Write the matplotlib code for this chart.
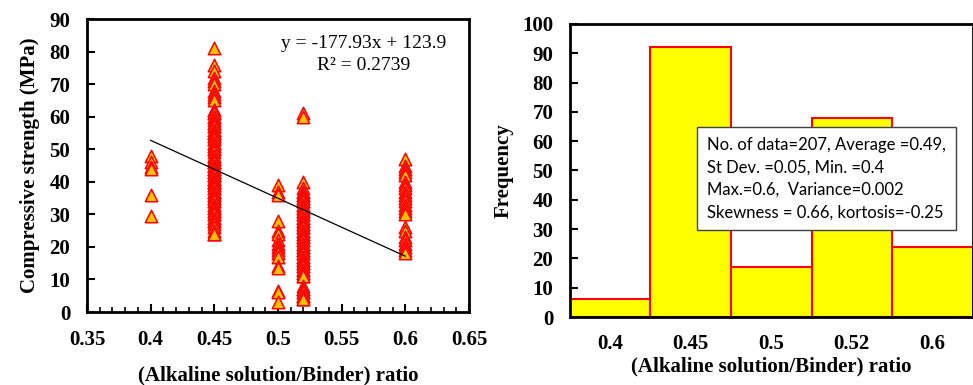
import numpy as np
import matplotlib
matplotlib.use("Agg")
import matplotlib.pyplot as plt
from matplotlib.ticker import MultipleLocator

# Compressive strength (MPa) grouped by alkaline solution / binder ratio
ratio_040 = [48, 46, 44.5, 44, 36, 29.5]
ratio_045 = [81, 76, 74, 72, 71, 70, 68, 67, 66, 65,
             62, 62, 61, 61, 60, 60, 59, 58, 58, 57,
             57, 56, 56, 55, 55, 55, 54, 54, 53, 53,
             52, 52, 51, 51, 50, 50, 49, 48, 48, 47,
             47, 46, 46, 46, 45, 45, 45, 44, 44, 44,
             43, 43, 43, 42, 42, 42, 41, 41, 41, 40,
             40, 40, 39, 39, 38, 38, 37, 37, 37, 36,
             36, 35, 35, 34, 34, 33, 33, 32, 32, 31,
             31, 30, 30, 29, 29, 28, 28, 27, 26, 25,
             24, 24]
ratio_050 = [39, 37, 36, 28, 25, 24, 22, 21, 20, 19, 18, 17, 14, 13.5, 6.5, 6, 3]
ratio_052 = [61, 60, 40, 38, 37, 37, 36, 36, 35, 35,
             34, 34, 33, 33, 32, 32, 31, 31, 30, 30,
             29, 29, 28, 28, 27, 27, 26, 26, 25, 25,
             24, 24, 23, 23, 22, 22, 21, 21, 20, 20,
             19, 19, 18, 18, 17, 17, 16, 16, 15, 15,
             14, 14, 13, 13, 12, 12, 11, 11, 8, 7,
             7, 6, 6, 5, 5, 5, 4, 4]
ratio_060 = [47, 45, 44, 43, 42, 40, 39, 38, 37, 36, 35, 34,
             33, 32, 31, 30, 26, 25, 23, 22, 21, 20, 19, 18]

groups = {0.40: ratio_040, 0.45: ratio_045, 0.50: ratio_050,
          0.52: ratio_052, 0.60: ratio_060}

# Linear trend reported on the chart
slope, intercept = -177.93, 123.9
r_squared = 0.2739

# Histogram of the ratio
hist_labels = ["0.4", "0.45", "0.5", "0.52", "0.6"]
hist_counts = [6, 92, 17, 68, 24]

stats_text = ("No. of data=207, Average =0.49,\n"
              "St Dev. =0.05, Min. =0.4\n"
              "Max.=0.6,  Variance=0.002\n"
              "Skewness = 0.66, kortosis=-0.25")

serif = "Liberation Serif"
TICK_FS = 15
LABEL_FS = 15

fig = plt.figure(figsize=(9.73, 3.85), dpi=100)

# ---------- scatter panel ----------
ax1 = fig.add_axes([0.0894, 0.1896, 0.3926, 0.761])
xs = np.concatenate([[k] * len(v) for k, v in groups.items()])
ys = np.concatenate([v for v in groups.values()])
ax1.scatter(xs, ys, marker="^", s=80, facecolor="#FFC000",
            edgecolor="#FF0000", linewidths=1.1, zorder=3)
xl = np.array([min(groups), max(groups)])
ax1.plot(xl, slope * xl + intercept, color="black", lw=0.9, zorder=4)

ax1.set_xlim(0.35, 0.65)
ax1.set_ylim(0, 90)
ax1.xaxis.set_minor_locator(MultipleLocator(0.01))
ax1.yaxis.set_major_locator(MultipleLocator(10))
ax1.set_xticks(np.arange(0.35, 0.651, 0.05))
ax1.set_xticklabels(["0.35", "0.4", "0.45", "0.5", "0.55", "0.6", "0.65"])
ax1.tick_params(which="major", direction="in", length=6, width=1.5,
                top=False, right=False)
ax1.tick_params(which="minor", direction="in", length=3.5, width=1.2,
                top=False, right=False)
ax1.tick_params(axis="x", which="major", pad=13)
ax1.tick_params(axis="y", which="major", pad=12)
for lab in ax1.get_xticklabels() + ax1.get_yticklabels():
    lab.set_fontfamily(serif)
    lab.set_fontweight("bold")
    lab.set_fontsize(TICK_FS)
for sp in ax1.spines.values():
    sp.set_linewidth(2)
ax1.set_xlabel("(Alkaline solution/Binder) ratio", fontfamily=serif,
               fontweight="bold", fontsize=LABEL_FS, labelpad=11)
ax1.set_ylabel("Compressive strength (MPa)", fontfamily=serif,
               fontweight="bold", fontsize=LABEL_FS, labelpad=7)
ax1.text(0.725, 0.88, f"y = {slope}x + {intercept}\nR² = {r_squared}",
         transform=ax1.transAxes, ha="center", va="center",
         fontfamily=serif, fontsize=14, linespacing=1.4)

# ---------- histogram panel ----------
ax2 = fig.add_axes([0.5858, 0.1766, 0.4137, 0.7611])
pos = np.arange(len(hist_counts))
ax2.bar(pos, hist_counts, width=1.0, color="#FFFF00",
        edgecolor="#FF0000", linewidth=1.5, zorder=2)
ax2.set_xlim(-0.5, len(hist_counts) - 0.5)
ax2.set_ylim(0, 100)
ax2.yaxis.set_major_locator(MultipleLocator(10))
ax2.set_xticks(pos)
ax2.set_xticklabels(hist_labels)
ax2.tick_params(axis="y", direction="in", length=6, width=1.5, pad=12)
ax2.tick_params(axis="x", length=0, pad=12)
for lab in ax2.get_xticklabels() + ax2.get_yticklabels():
    lab.set_fontfamily(serif)
    lab.set_fontweight("bold")
    lab.set_fontsize(TICK_FS)
for sp in ax2.spines.values():
    sp.set_linewidth(2)
ax2.set_xlabel("(Alkaline solution/Binder) ratio", fontfamily=serif,
               fontweight="bold", fontsize=LABEL_FS, labelpad=2)
ax2.set_ylabel("Frequency", fontfamily=serif, fontweight="bold",
               fontsize=LABEL_FS, labelpad=6)
ax2.text(0.34, 0.615, stats_text, transform=ax2.transAxes, ha="left",
         va="top", fontfamily="Lato", fontsize=12, linespacing=1.5,
         zorder=5,
         bbox=dict(boxstyle="square,pad=0.6", facecolor="white",
                   edgecolor="#404040", linewidth=1.0))

fig.savefig("out.png", dpi=100)
